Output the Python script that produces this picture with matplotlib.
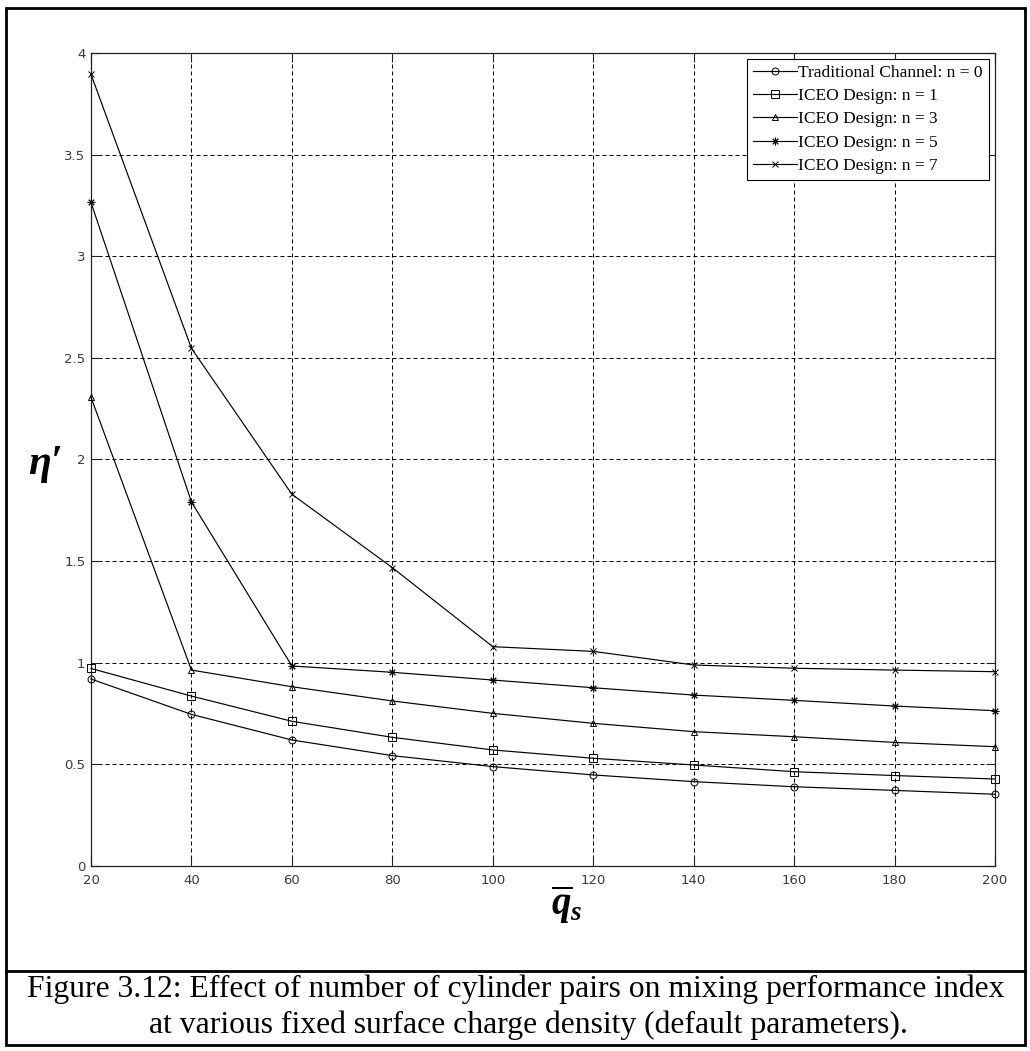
import matplotlib
matplotlib.use("Agg")
import matplotlib.pyplot as plt
from matplotlib.lines import Line2D

# Surface charge density values (x axis)
q_s = [20, 40, 60, 80, 100, 120, 140, 160, 180, 200]

# Mixing performance index for each channel configuration
eta_n0 = [0.920, 0.746, 0.620, 0.543, 0.489, 0.448, 0.415, 0.390, 0.372, 0.353]
eta_n1 = [0.972, 0.836, 0.712, 0.633, 0.571, 0.530, 0.497, 0.464, 0.445, 0.428]
eta_n3 = [2.306, 0.964, 0.882, 0.812, 0.751, 0.702, 0.661, 0.636, 0.608, 0.587]
eta_n5 = [3.265, 1.791, 0.984, 0.953, 0.915, 0.877, 0.841, 0.815, 0.787, 0.764]
eta_n7 = [3.895, 2.547, 1.829, 1.468, 1.079, 1.056, 0.989, 0.973, 0.964, 0.956]

series_labels = [
    "Traditional Channel: n = 0",
    "ICEO Design: n = 1",
    "ICEO Design: n = 3",
    "ICEO Design: n = 5",
    "ICEO Design: n = 7",
]

x_ticks = [20, 40, 60, 80, 100, 120, 140, 160, 180, 200]
y_ticks = [0, 0.5, 1, 1.5, 2, 2.5, 3, 3.5, 4]
y_tick_labels = ["0", "0.5", "1", "1.5", "2", "2.5", "3", "3.5", "4"]

caption_lines = [
    "Figure 3.12: Effect of number of cylinder pairs on mixing performance index",
    "at various fixed surface charge density (default parameters).",
]

plt.rcParams["mathtext.fontset"] = "custom"
plt.rcParams["mathtext.it"] = "Liberation Serif:italic:bold"
plt.rcParams["mathtext.rm"] = "Liberation Serif:bold"
plt.rcParams["mathtext.bf"] = "Liberation Serif:italic:bold"

W, H = 1030, 1051
fig = plt.figure(figsize=(W / 100, H / 100), dpi=100)
fig.patch.set_facecolor("white")


def fx(px):
    return px / W


def fy(py):
    return 1 - py / H


ax_l, ax_r, ax_t, ax_b = 91, 995, 53, 866
ax = fig.add_axes([fx(ax_l), fy(ax_b), fx(ax_r - ax_l), (ax_b - ax_t) / H])

markers = ["o", "s", "^", (8, 2, 0), "x"]
msizes = [5, 5.5, 5, 5.5, 5]
all_series = [eta_n0, eta_n1, eta_n3, eta_n5, eta_n7]
for vals, mk, ms, lab in zip(all_series, markers, msizes, series_labels):
    ax.plot(q_s, vals, color="black", lw=0.85, marker=mk, ms=ms,
            mfc="none", mec="black", mew=0.7, label=lab, clip_on=False,
            zorder=3)

ax.set_xlim(20, 200)
ax.set_ylim(0, 4)
ax.set_xticks(x_ticks)
ax.set_xticklabels([str(v) for v in x_ticks])
ax.set_yticks(y_ticks)
ax.set_yticklabels(y_tick_labels)

ax.grid(True, color="black", lw=0.72, linestyle=(0, (4, 3)))
ax.set_axisbelow(True)
for s in ax.spines.values():
    s.set_linewidth(0.9)
    s.set_color("#222222")

ax.tick_params(direction="in", length=6.5, width=0.8, top=True, right=True,
               labelsize=9.5, colors="#222222")
ax.tick_params(axis="x", pad=6)
ax.tick_params(axis="y", pad=4)
for t in ax.get_xticklabels() + ax.get_yticklabels():
    t.set_fontfamily("DejaVu Sans")
    t.set_color("#3a3a3a")

leg = ax.legend(loc="upper right", prop={"family": "Liberation Serif", "size": 12.5},
                frameon=True, fancybox=False, framealpha=1, edgecolor="black",
                borderaxespad=0.35, borderpad=0.35, labelspacing=0.4,
                handlelength=2.5, handletextpad=0.1, numpoints=1)
leg.get_frame().set_linewidth(0.8)

# Axis labels
fig.text(fx(45), fy(464), "η′", family="Liberation Serif", style="italic",
         weight="bold", fontsize=30, ha="center", va="center")
fig.text(fx(567), fy(905), r"$\overline{q}_{s}$", fontsize=28,
         ha="center", va="center")

# Outer frame and caption divider
frame = plt.Rectangle((fx(6), fy(1045)), fx(1025 - 6), (1045 - 7.5) / H,
                      transform=fig.transFigure, fill=False, lw=2.0,
                      edgecolor="black")
fig.add_artist(frame)
fig.add_artist(Line2D([fx(6), fx(1025)], [fy(971), fy(971)],
                      transform=fig.transFigure, color="black", lw=2.0))

# Caption
fig.text(fx(516), fy(989), caption_lines[0], family="Liberation Serif",
         fontsize=22.8, ha="center", va="center")
fig.text(fx(528), fy(1025), caption_lines[1], family="Liberation Serif",
         fontsize=22.8, ha="center", va="center")

fig.savefig("out.png", dpi=100, facecolor="white")
